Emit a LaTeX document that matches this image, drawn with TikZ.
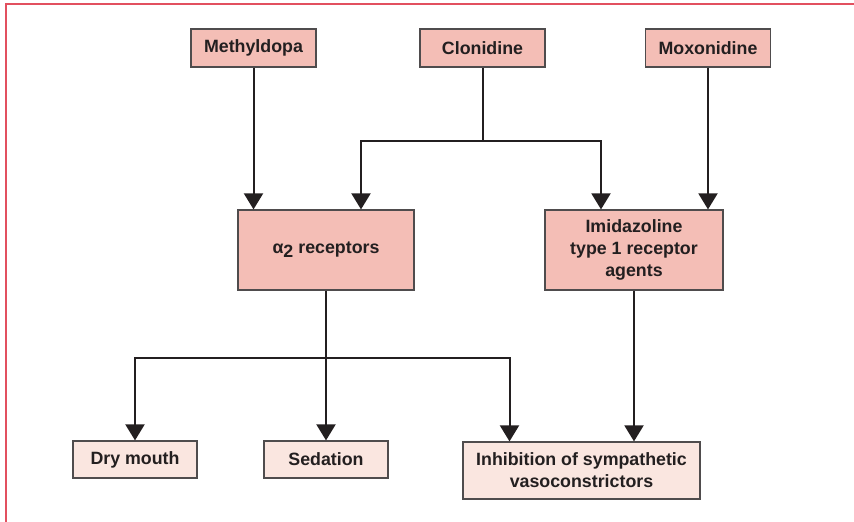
\documentclass[tikz,border=0pt]{standalone}
\usepackage{fontspec}
\setmainfont{Liberation Sans}
\usetikzlibrary{arrows.meta,calc}
\definecolor{darkbox}{HTML}{F4BEB6}
\definecolor{lightbox}{HTML}{FAE6E0}
\definecolor{framered}{HTML}{E2505F}
\definecolor{ink}{HTML}{231F20}
\begin{document}
\begin{tikzpicture}[x=1pt,y=-1pt,
  box/.style={draw=ink!80, line width=1.2pt, fill=darkbox, text=ink, align=center, inner sep=0pt,
    font=\fontsize{17.8}{22}\selectfont\bfseries},
  effect/.style={box, fill=lightbox},
  conn/.style={draw=ink, line width=2pt},
  arr/.style={conn, -{Triangle[width=19pt,length=16pt]}}]
\useasboundingbox (0,0) rectangle (854,522);
\draw [framered, line width=1.8pt] (6,522) -- (6,4) -- (854,4);
% drugs
\node [box, minimum width=125pt, minimum height=38pt] (methyl) at (253.5,48) {Methyldopa};
\node [box, minimum width=125pt, minimum height=38pt] (clon) at (482.5,48) {Clonidine};
\node [box, minimum width=125pt, minimum height=38pt] (moxo) at (708,48) {Moxonidine};
% receptors
\node [box, minimum width=176pt, minimum height=80pt] (alpha) at (326,250) {α\raisebox{-0.35ex}{2} receptors};
\node [box, minimum width=178pt, minimum height=80pt] (imid) at (634,250) {Imidazoline\\type 1 receptor\\agents};
% effects
\node [effect, minimum width=124pt, minimum height=37pt] (dry) at (135,459.5) {Dry mouth};
\node [effect, minimum width=124pt, minimum height=37pt] (sed) at (326,459.5) {Sedation};
\node [effect, minimum width=237pt, minimum height=57pt] (inh) at (581.5,470.5) {Inhibition of sympathetic\\vasoconstrictors};
\coordinate (cj) at ($(clon.south)+(0,73)$);
\coordinate (aj) at ($(alpha.south)+(0,67)$);
\draw [arr] (methyl.south) -- (methyl.south |- alpha.north);
\draw [conn] (clon.south) -- (cj);
\draw [arr] (cj) -| ([xshift=35pt]alpha.north);
\draw [arr] (cj) -| ([xshift=-33pt]imid.north);
\draw [arr] (moxo.south) -- (moxo.south |- imid.north);
\draw [conn] (alpha.south) -- (aj);
\draw [arr] (aj) -| (dry.north);
\draw [arr] (aj) -- (sed.north);
\draw [arr] (aj) -| ([xshift=-72pt]inh.north);
\draw [arr] (imid.south) -- (imid.south |- inh.north);
\end{tikzpicture}
\end{document}
